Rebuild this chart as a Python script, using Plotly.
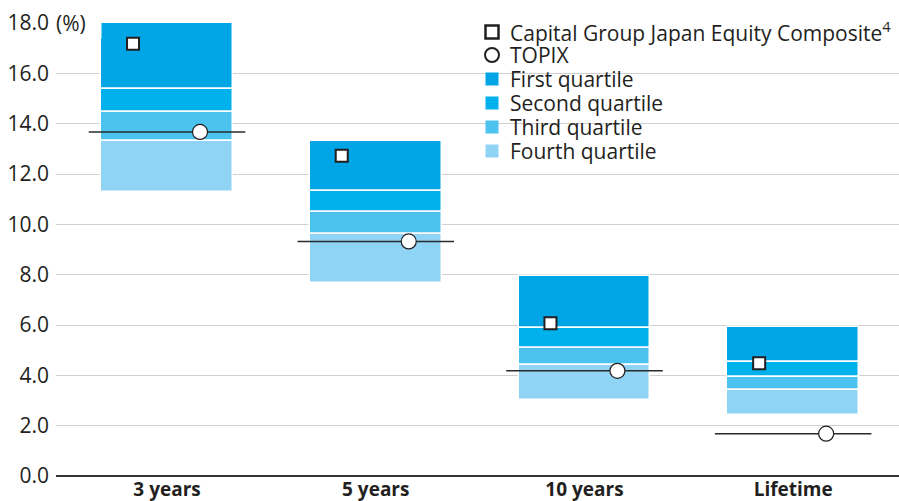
import plotly.graph_objects as go

# Return periods and quartile ranges (%)
categories = ["3 years", "5 years", "10 years", "Lifetime"]
quartile_top = [18.0, 13.32, 7.93, 5.94]
first_low = [15.37, 11.34, 5.87, 4.52]
second_low = [14.46, 10.50, 5.08, 3.93]
third_low = [13.33, 9.63, 4.41, 3.42]
fourth_low = [11.27, 7.65, 3.01, 2.42]
composite = [17.18, 12.73, 6.07, 4.48]
topix = [13.67, 9.32, 4.18, 1.68]

y_ticks = [0, 2, 4, 6, 8, 10, 12, 14, 16, 18]

FONT = "Open Sans"
FS = 21
TEXT = "#231f20"
colors = ["#00a5e6", "#00b1eb", "#4cc3ef", "#8fd3f5"]
names = ["First quartile", "Second quartile", "Third quartile", "Fourth quartile"]
composite_name = "Capital Group Japan Equity Composite<sup>4</sup>"
topix_name = "TOPIX"

W, H = 899, 501
ML, MR, MT, MB = 56, 0, 23, 25
PW, PH = W - ML - MR, H - MT - MB

xs = list(range(len(categories)))
BAR_W = 0.632
SQ_OFF = -0.163
CI_OFF = 0.158
LINE_HALF = 0.375

fig = go.Figure()

bands = [
    (quartile_top, first_low),
    (first_low, second_low),
    (second_low, third_low),
    (third_low, fourth_low),
]
for (hi, lo), col, nm in zip(bands, colors, names):
    fig.add_trace(go.Bar(
        x=xs, y=[h - l for h, l in zip(hi, lo)], base=lo,
        width=BAR_W, marker=dict(color=col, line=dict(color="white", width=1.5)),
        name=nm, hoverinfo="skip", showlegend=False,
    ))

# TOPIX reference lines across each category
lx, ly = [], []
for i, v in zip(xs, topix):
    lx += [i - LINE_HALF, i + LINE_HALF, None]
    ly += [v, v, None]
fig.add_trace(go.Scatter(x=lx, y=ly, mode="lines", line=dict(color="#2b2b2b", width=1.5),
                         showlegend=False, hoverinfo="skip"))

fig.add_trace(go.Scatter(
    x=[i + SQ_OFF for i in xs], y=composite, mode="markers",
    marker=dict(symbol="square", size=12, color="white", line=dict(color="#231f20", width=2)),
    name=composite_name, showlegend=False,
))
fig.add_trace(go.Scatter(
    x=[i + CI_OFF for i in xs], y=topix, mode="markers",
    marker=dict(symbol="circle", size=15, color="white", line=dict(color="#231f20", width=1.2)),
    name=topix_name, showlegend=False,
))


# Hand-built legend (pixel positions converted to paper coordinates)
def px(x):
    return (x - ML) / PW


def py(y):
    return (H - MB - y) / PH


legend_rows = [32, 55, 79, 103, 127, 151]
sym_cx, text_x = 492, 508
shapes = []
for row_y, label in zip(legend_rows, [composite_name, topix_name] + names):
    fig.add_annotation(xref="paper", yref="paper", x=px(text_x), y=py(row_y), text=label,
                       showarrow=False, xanchor="left", yanchor="middle",
                       font=dict(family=FONT, size=FS, color=TEXT))
# open square
shapes.append(dict(type="rect", xref="paper", yref="paper",
                   x0=px(sym_cx - 6.5), x1=px(sym_cx + 6.5), y0=py(legend_rows[0] + 6.5), y1=py(legend_rows[0] - 6.5),
                   line=dict(color="#231f20", width=2.5), fillcolor="white"))
# open circle
shapes.append(dict(type="circle", xref="paper", yref="paper",
                   x0=px(sym_cx - 7), x1=px(sym_cx + 7), y0=py(legend_rows[1] + 7), y1=py(legend_rows[1] - 7),
                   line=dict(color="#231f20", width=2), fillcolor="white"))
for row_y, col in zip(legend_rows[2:], colors):
    shapes.append(dict(type="rect", xref="paper", yref="paper",
                       x0=px(sym_cx - 6.5), x1=px(sym_cx + 6.5), y0=py(row_y + 6.5), y1=py(row_y - 6.5),
                       line=dict(width=0), fillcolor=col))

fig.add_annotation(xref="paper", yref="y", x=0, y=18, text="(%)", showarrow=False,
                   xanchor="left", yanchor="middle", xshift=-2, bgcolor="white",
                   font=dict(family=FONT, size=FS, color=TEXT), width=44, align="left")

fig.update_layout(
    width=W, height=H,
    margin=dict(l=ML, r=MR, t=MT, b=MB),
    paper_bgcolor="white", plot_bgcolor="white",
    barmode="overlay", bargap=0,
    font=dict(family=FONT, size=FS, color=TEXT),
    shapes=shapes,
    showlegend=False,
)
fig.update_xaxes(range=[-0.532, 3.507], tickvals=xs, ticktext=[f"<b>{c}</b>" for c in categories],
                 showgrid=False, zeroline=False, showline=False, ticks="", ticklabelstandoff=0,
                 automargin=False,
                 tickfont=dict(family=FONT, size=19, color=TEXT))
fig.update_yaxes(range=[0, 18], tickvals=y_ticks, ticktext=[f"{v:.1f}" for v in y_ticks],
                 showgrid=True, gridcolor="#d0d0d0", gridwidth=1,
                 zeroline=True, zerolinecolor="#333333", zerolinewidth=1.5,
                 showline=False, ticks="", ticklabelstandoff=6, automargin=False,
                 tickfont=dict(family=FONT, size=FS, color=TEXT))

fig.write_html("out.html")
